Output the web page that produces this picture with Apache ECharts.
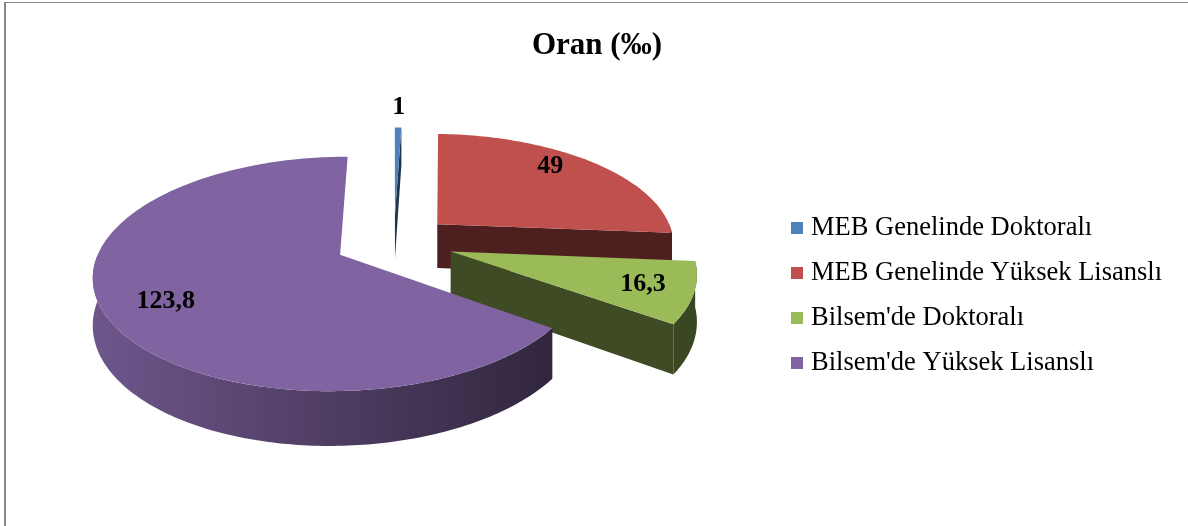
<!DOCTYPE html>
<html><head><meta charset="utf-8">
<script src="https://cdn.jsdelivr.net/npm/echarts@6/dist/echarts.min.js"></script>
<style>html,body{margin:0;padding:0;background:#fff}#c{width:1188px;height:526px}</style>
</head><body><div id="c"></div>
<script>
// ---- data ----
const categories = ['MEB Genelinde Doktoralı', 'MEB Genelinde Yüksek Lisanslı', "Bilsem'de Doktoralı", "Bilsem'de Yüksek Lisanslı"];
const values = [1, 49, 16.3, 123.8];
const valueLabels = ['1', '49', '16,3', '123,8'];

// ---- style / layout ----
const colors = ['#4F81BD', '#C0504D', '#9BBB59', '#8064A2'];
const labelRadius = [1.25, 0.72, 0.8, 0.75];
const labelShiftY = [-2, -11, 0, 5];
const PIE = {cx: 394, cy: 242, rx: 238, ry: 110, k: 0.16, depth: 45, explode: 0.25};
const FONT = '"Liberation Serif", "Times New Roman", serif';

const total = values.reduce((a, b) => a + b, 0);
const starts = [], ends = [];
let acc = 0;
values.forEach(v => { starts.push(acc / total * 360); acc += v; ends.push(acc / total * 360); });

function proj(u, v, h) {
  const p = 1 / (1 - PIE.k * v);
  return [PIE.cx + PIE.rx * u * p, PIE.cy + (PIE.ry * v + PIE.depth * h) * p];
}
function shade(hex, f) {
  const n = parseInt(hex.slice(1), 16);
  return 'rgb(' + Math.round(((n >> 16) & 255) * f) + ',' + Math.round(((n >> 8) & 255) * f) + ',' + Math.round((n & 255) * f) + ')';
}
function wallFactor(theta) {
  const t = (theta - 125) / (270 - 125);
  return Math.max(0.38, Math.min(0.86, 0.38 + t * 0.48));
}
function geom(i) {
  const a1 = starts[i], a2 = ends[i], m = (a1 + a2) / 2 * Math.PI / 180;
  const ex = PIE.explode * Math.sin(m), ev = -PIE.explode * Math.cos(m);
  const pt = (deg, r, h) => { const t = deg * Math.PI / 180; return proj(ex + r * Math.sin(t), ev - r * Math.cos(t), h); };
  return {a1, a2, ev, pt};
}
function arc(pt, from, to, h) {
  const n = Math.max(2, Math.ceil(Math.abs(to - from)));
  const pts = [];
  for (let j = 0; j <= n; j++) pts.push(pt(from + (to - from) * j / n, 1, h));
  return pts;
}
// painter order: back to front
const rank = [];
categories.map((c, i) => i).sort((a, b) => geom(a).ev - geom(b).ev).forEach((idx, r) => { rank[idx] = r; });

function renderSlice(i) {
  return function (params, api) {
    const g = geom(i), col = colors[i], base = rank[i] * 10, children = [];
    [[g.a1, g.a1 - 90], [g.a2, g.a2 + 90]].forEach(([ang, nrm]) => {
      if (-Math.cos(nrm * Math.PI / 180) > 0.02) {
        children.push({type: 'polygon', z2: base + 1, shape: {points: [g.pt(ang, 0, 0), g.pt(ang, 1, 0), g.pt(ang, 1, 1), g.pt(ang, 0, 1)]}, style: {fill: shade(col, 0.4)}});
      }
    });
    const w1 = Math.max(g.a1, 90), w2 = Math.min(g.a2, 270);
    if (w2 > w1) {
      const top = arc(g.pt, w1, w2, 0), bot = arc(g.pt, w2, w1, 1);
      const xs = top.map(p => p[0]);
      const xmin = Math.min.apply(null, xs), xmax = Math.max.apply(null, xs);
      children.push({type: 'polygon', z2: base + 2, shape: {points: top.concat(bot)},
        style: {fill: {type: 'linear', x: xmax, y: 0, x2: xmin - 0.01, y2: 0, global: true,
          colorStops: [{offset: 0, color: shade(col, wallFactor(w1))}, {offset: 1, color: shade(col, wallFactor(w2))}]}}});
    }
    children.push({type: 'polygon', z2: base + 5, shape: {points: [g.pt(0, 0, 0)].concat(arc(g.pt, g.a1, g.a2, 0))}, style: {fill: col}});
    const lp = g.pt((g.a1 + g.a2) / 2, labelRadius[i], 0);
    children.push({type: 'text', z2: 100, style: {text: valueLabels[i], x: lp[0], y: lp[1] + labelShiftY[i], align: 'center', verticalAlign: 'middle',
      font: 'bold 26px ' + FONT, fill: '#000'}});
    return {type: 'group', children};
  };
}

const chart = echarts.init(document.getElementById('c'), null, {renderer: 'canvas'});
chart.setOption({
  animation: false,
  backgroundColor: '#fff',
  title: {text: 'Oran (‰)', left: 527, top: 25,
    textStyle: {fontFamily: FONT, fontWeight: 'bold', fontSize: 31, color: '#000'}},
  legend: {data: categories, orient: 'vertical', left: 786, top: 209, icon: 'rect', itemWidth: 12, itemHeight: 12,
    itemGap: 17, selectedMode: false,
    textStyle: {fontFamily: FONT, fontSize: 26.5, lineHeight: 28, color: '#000', padding: [0, 0, 0, 3]}},
  graphic: [
    {type: 'line', silent: true, shape: {x1: 4, y1: 2.5, x2: 1188, y2: 2.5}, style: {stroke: '#868686', lineWidth: 1}},
    {type: 'line', silent: true, shape: {x1: 5, y1: 2, x2: 5, y2: 526}, style: {stroke: '#868686', lineWidth: 2}}
  ],
  series: categories.map((name, i) => ({
    type: 'custom', name, coordinateSystem: 'none', silent: true,
    itemStyle: {color: colors[i]},
    data: [values[i]],
    renderItem: renderSlice(i)
  }))
});
</script></body></html>
